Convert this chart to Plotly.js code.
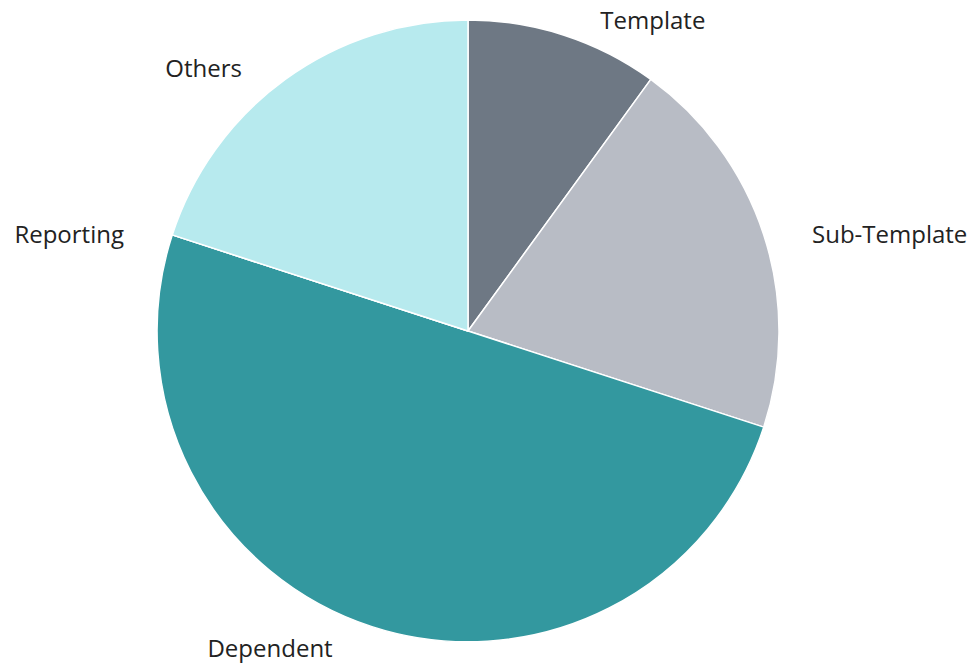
<!DOCTYPE html>
<html>
<head>
<meta charset="utf-8">
<script src="https://cdn.plot.ly/plotly-3.0.1.min.js"></script>
<style>html,body{margin:0;padding:0;background:#fff;}#chart{width:974px;height:666px;}</style>
</head>
<body>
<div id="chart"></div>
<script>
const categories = ["Template", "Sub-Template", "Dependent", "Reporting", "Others"];
const values = [10, 20, 50, 0, 20];
const colors = ["#6e7884", "#b8bcc5", "#33989f", "#5fb6bb", "#b7eaee"];

const trace = {
  type: "pie",
  labels: categories,
  values: values,
  sort: false,
  direction: "clockwise",
  rotation: 0,
  marker: { colors: colors, line: { color: "#ffffff", width: 1.5 } },
  textinfo: "label",
  textposition: "outside",
  outsidetextfont: { family: "Open Sans, sans-serif", size: 24, color: "#222222" },
  hoverinfo: "label+value+percent",
  domain: { x: [0, 0.961], y: [0, 1] },
  automargin: false
};

const layout = {
  width: 974,
  height: 666,
  margin: { l: 0, r: 0, t: 20, b: 24 },
  showlegend: false,
  paper_bgcolor: "#ffffff",
  plot_bgcolor: "#ffffff",
  font: { family: "Open Sans, sans-serif", size: 24, color: "#222222" }
};

Plotly.newPlot("chart", [trace], layout, { displayModeBar: false, staticPlot: true }).then(function (gd) {
  // push outside labels a little further away from the pie, like the reference
  const total = values.reduce((a, b) => a + b, 0);
  const mids = [];
  let cum = 0;
  values.forEach(v => { mids.push((cum + v / 2) / total * 2 * Math.PI); cum += v; });
  gd.querySelectorAll("g.slice").forEach(function (g, k) {
    const pt = g.__data__;
    const idx = (pt && typeof pt.i === "number") ? pt.i : k;
    const a = mids[idx];
    const s = Math.sin(a), c = Math.cos(a);
    let mag = 40;
    if (c > 0.9) mag = 28;
    else if (c < -0.5) mag = 31;
    else if (c > 0.5) mag = 35;
    const dx = (s >= 0 ? 1 : -1) * mag;
    const dy = c < -0.5 ? 6 : (c > 0.5 ? -1 : 0);
    const t = g.querySelector("g.slicetext");
    if (t) {
      const tr = t.getAttribute("transform") || "";
      t.setAttribute("transform", "translate(" + dx + "," + dy + ") " + tr);
    }
  });
});
</script>
</body>
</html>
